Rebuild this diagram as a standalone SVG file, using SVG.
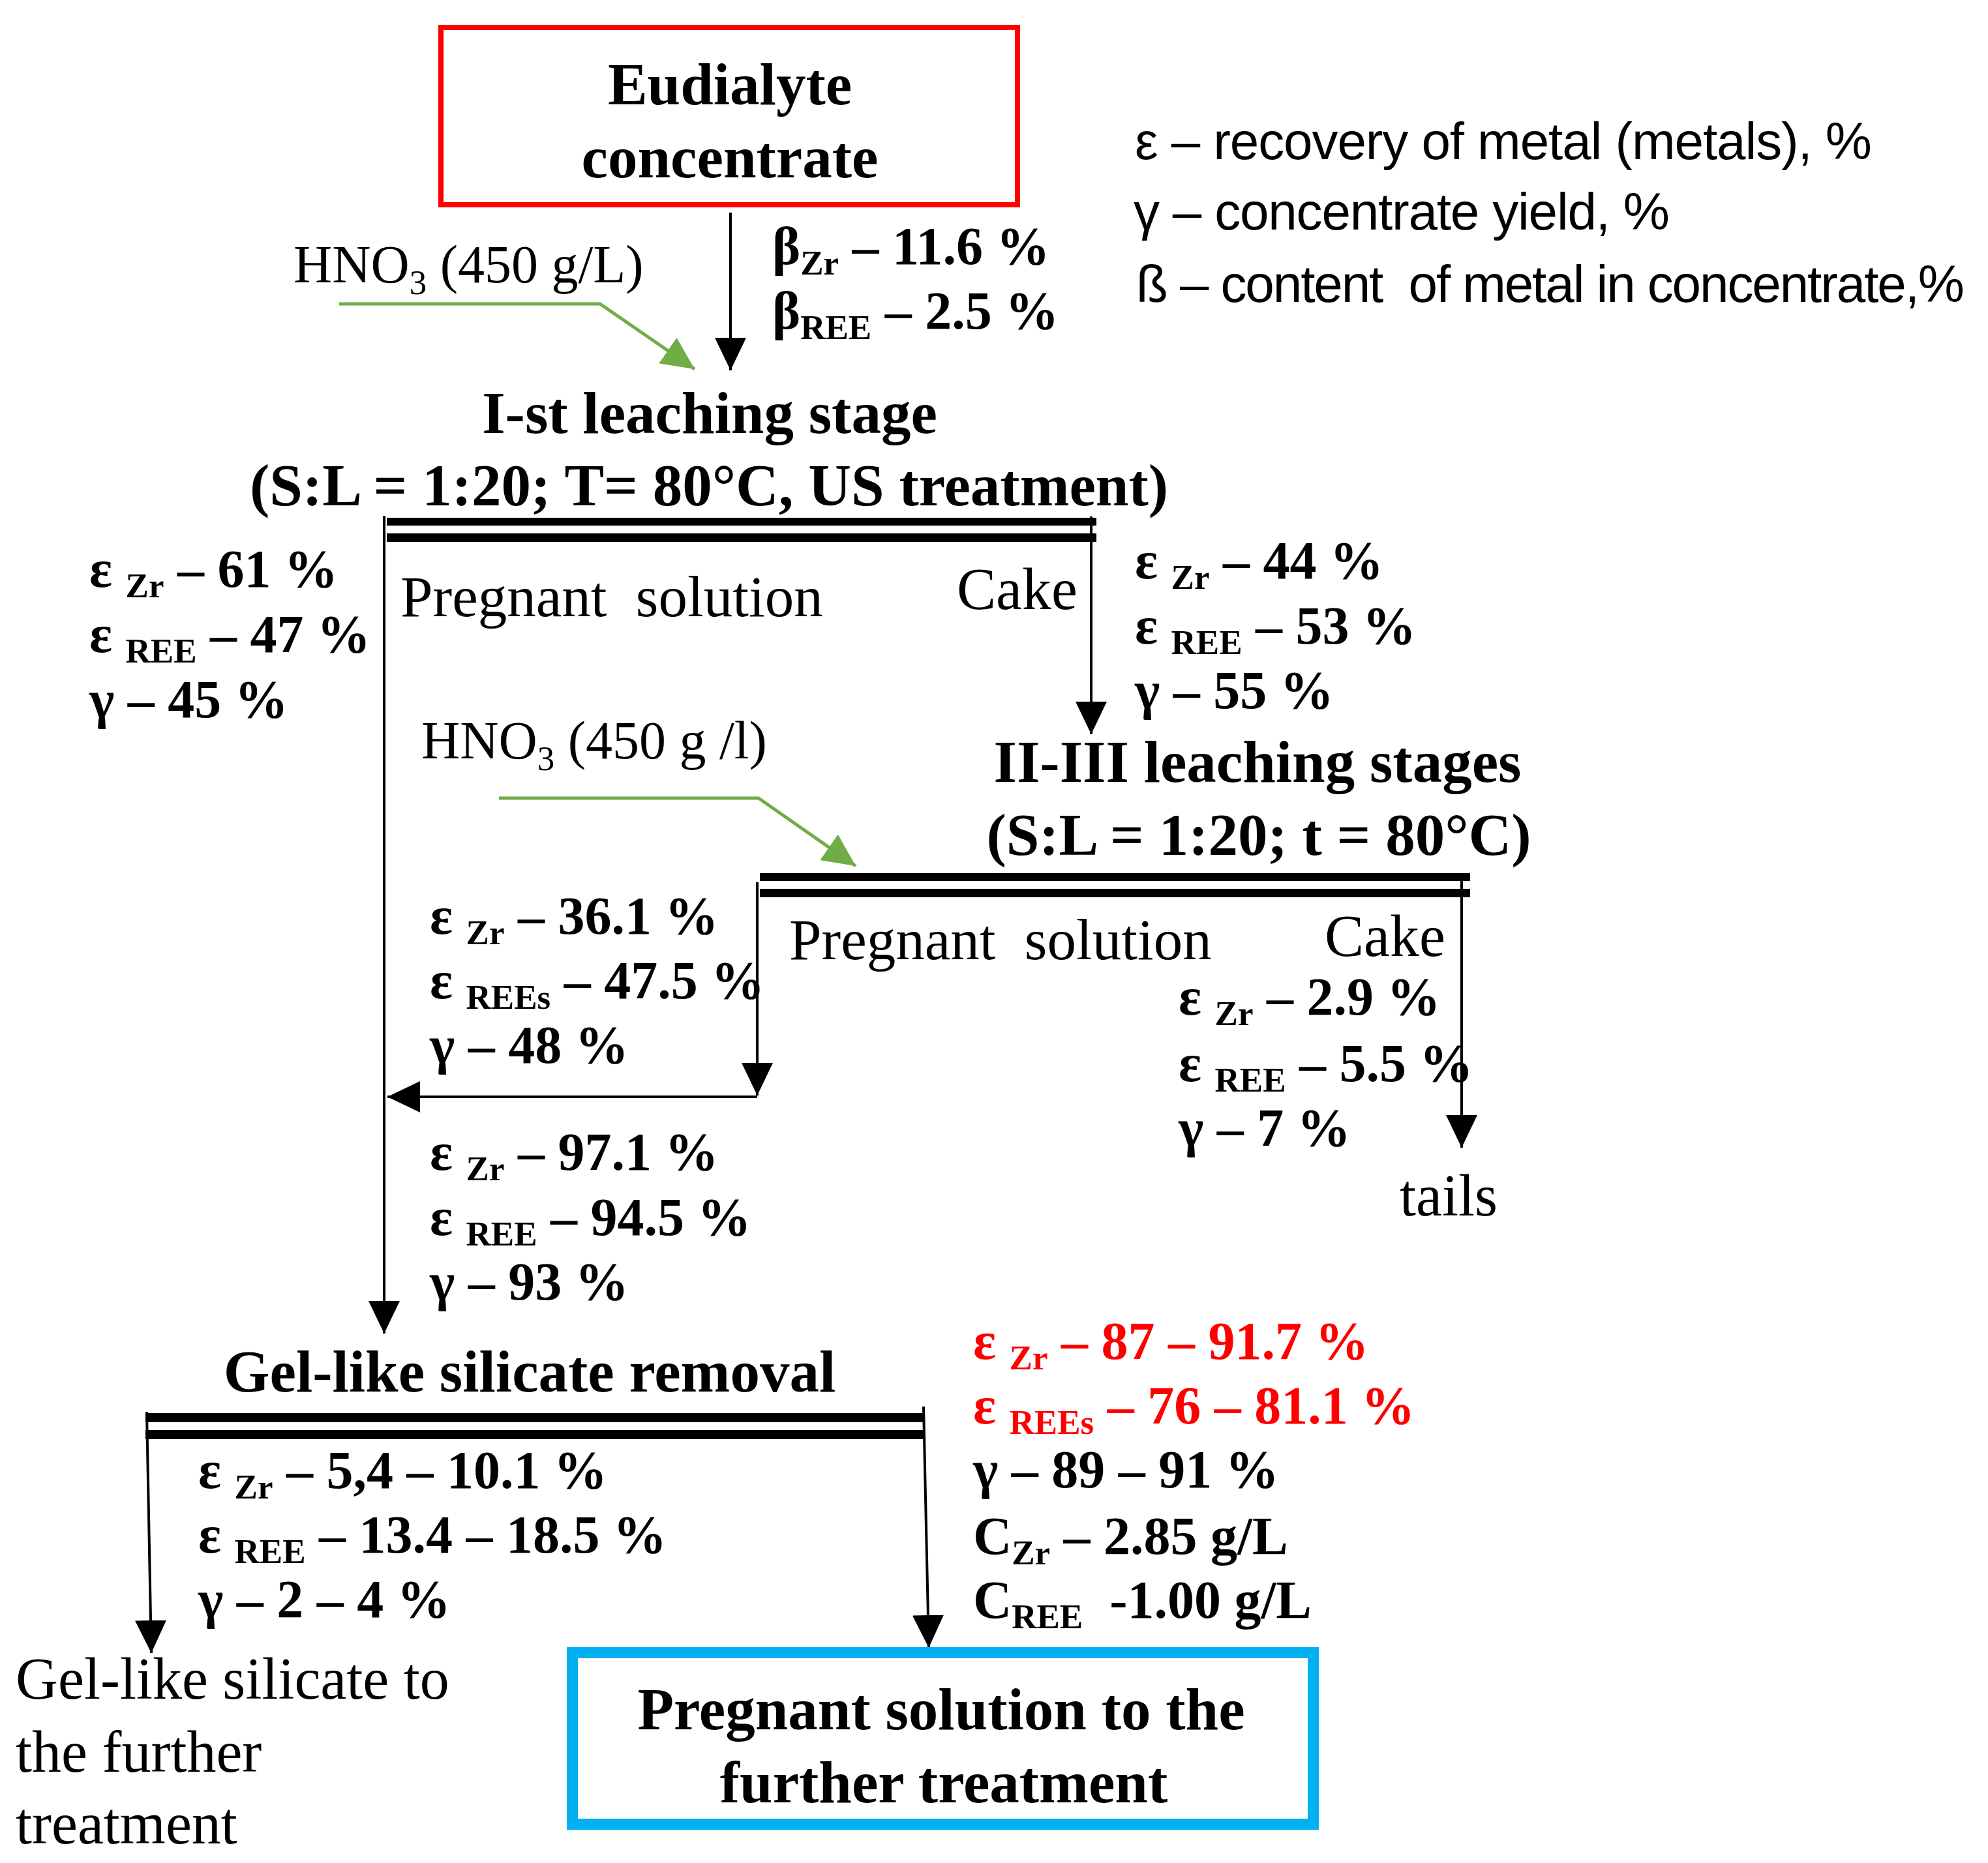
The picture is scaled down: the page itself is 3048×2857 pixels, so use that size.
<svg xmlns="http://www.w3.org/2000/svg" width="3048" height="2857" viewBox="0 0 3048 2857">
<style>
.t{font-family:"Liberation Serif","Times New Roman",serif;fill:#000;white-space:pre}
.b{font-weight:bold;font-size:82px}
.h{font-weight:bold;font-size:91px}
.r{font-size:90px}
.p{font-size:89px}
.hn{font-size:82px}
.s{font-size:53px}
.red{fill:#FF0000}
.lg{font-family:"Liberation Sans",Arial,sans-serif;font-size:80px;fill:#000;white-space:pre}
.ln{stroke:#000;stroke-width:4;fill:none}
.gr{stroke:#70AD47;stroke-width:5;fill:none}
.bar{fill:#000}
</style>
<defs>
<marker id="ah" markerUnits="userSpaceOnUse" markerWidth="50" markerHeight="48" refX="50" refY="24" orient="auto" viewBox="0 0 50 48">
<path d="M0,0 L50,24 L0,48 Z" fill="#000"/>
</marker>
<marker id="ahg" markerUnits="userSpaceOnUse" markerWidth="50" markerHeight="48" refX="50" refY="24" orient="auto" viewBox="0 0 50 48">
<path d="M0,0 L50,24 L0,48 Z" fill="#70AD47"/>
</marker>
</defs>
<rect width="3048" height="2857" fill="#fff"/>

<g id="connectors">
<line class="ln" x1="1120" y1="326" x2="1120" y2="568" marker-end="url(#ah)"/>
<polyline class="gr" points="520,466 920,466 1065,566" marker-end="url(#ahg)"/>
<line class="ln" x1="589" y1="791" x2="589" y2="2045" marker-end="url(#ah)"/>
<line class="ln" x1="1673" y1="792" x2="1673" y2="1126" marker-end="url(#ah)"/>
<polyline class="gr" points="765,1224 1163,1224 1312,1328" marker-end="url(#ahg)"/>
<line class="ln" x1="1161" y1="1353" x2="1161" y2="1680" marker-end="url(#ah)"/>
<line class="ln" x1="1161" y1="1682" x2="594" y2="1682" marker-end="url(#ah)"/>
<line class="ln" x1="2241" y1="1340" x2="2241" y2="1760" marker-end="url(#ah)"/>
<line class="ln" x1="225" y1="2165" x2="232" y2="2535" marker-end="url(#ah)"/>
<line class="ln" x1="1416" y1="2157" x2="1424" y2="2527" marker-end="url(#ah)"/>
</g>

<g id="n-eudialyte">
<rect x="676" y="42" width="884" height="272" fill="none" stroke="#FF0000" stroke-width="8"/>
<text class="t h" x="1119" y="160" text-anchor="middle">Eudialyte</text>
<text class="t h" x="1119" y="272" text-anchor="middle">concentrate</text>
</g>

<g id="legend">
<text class="lg" x="1740" y="244" textLength="1130">ε – recovery of metal (metals), %</text>
<text class="lg" x="1738" y="352" textLength="822">γ – concentrate yield, %</text>
<text class="lg" x="1742" y="463" textLength="1270">ß – content  of metal in concentrate,%</text>
</g>

<g id="feed-content">
<text class="t b" x="1184" y="405">β<tspan class="s" dy="16">Zr</tspan><tspan dy="-16"> – 11.6 %</tspan></text>
<text class="t b" x="1184" y="504">β<tspan class="s" dy="16">REE</tspan><tspan dy="-16"> – 2.5 %</tspan></text>
</g>

<g id="reagent-1">
<text class="t hn" x="450" y="433">HNO<tspan class="s" dy="18">3</tspan><tspan dy="-18"> (450 g/L)</tspan></text>
</g>

<g id="n-leach1">
<text class="t h" x="1088" y="664" text-anchor="middle">I-st leaching stage</text>
<text class="t h" x="1087" y="775" text-anchor="middle">(S:L = 1:20; T= 80°C, US treatment)</text>
<rect class="bar" x="593" y="794" width="1088" height="12"/>
<rect class="bar" x="593" y="818" width="1088" height="13"/>
<text class="t p" x="614" y="945">Pregnant  solution</text>
<text class="t r" x="1467" y="934">Cake</text>
</g>

<g id="stats-solution-1">
<text class="t b" x="137" y="900">ε <tspan class="s" dy="16">Zr</tspan><tspan dy="-16"> – 61 %</tspan></text>
<text class="t b" x="137" y="1000">ε <tspan class="s" dy="16">REE</tspan><tspan dy="-16"> – 47 %</tspan></text>
<text class="t b" x="137" y="1100">γ – 45 %</text>
</g>

<g id="stats-cake-1">
<text class="t b" x="1740" y="887">ε <tspan class="s" dy="16">Zr</tspan><tspan dy="-16"> – 44 %</tspan></text>
<text class="t b" x="1740" y="987">ε <tspan class="s" dy="16">REE</tspan><tspan dy="-16"> – 53 %</tspan></text>
<text class="t b" x="1740" y="1086">γ – 55 %</text>
</g>

<g id="reagent-2">
<text class="t hn" x="646" y="1163">HNO<tspan class="s" dy="18">3</tspan><tspan dy="-18"> (450 g /l)</tspan></text>
</g>

<g id="n-leach2">
<text class="t h" x="1928" y="1199" text-anchor="middle">II-III leaching stages</text>
<text class="t h" x="1930" y="1311" text-anchor="middle">(S:L = 1:20; t = 80°C)</text>
<rect class="bar" x="1165" y="1339" width="1089" height="12"/>
<rect class="bar" x="1165" y="1363" width="1089" height="13"/>
<text class="t p" x="1210" y="1471">Pregnant  solution</text>
<text class="t r" x="2031" y="1466">Cake</text>
</g>

<g id="stats-solution-2">
<text class="t b" x="659" y="1432">ε <tspan class="s" dy="16">Zr</tspan><tspan dy="-16"> – 36.1 %</tspan></text>
<text class="t b" x="659" y="1531">ε <tspan class="s" dy="16">REEs</tspan><tspan dy="-16"> – 47.5 %</tspan></text>
<text class="t b" x="659" y="1630">γ – 48 %</text>
</g>

<g id="stats-cake-2">
<text class="t b" x="1807" y="1556">ε <tspan class="s" dy="16">Zr</tspan><tspan dy="-16"> – 2.9 %</tspan></text>
<text class="t b" x="1807" y="1658">ε <tspan class="s" dy="16">REE</tspan><tspan dy="-16"> – 5.5 %</tspan></text>
<text class="t b" x="1807" y="1757">γ – 7 %</text>
</g>

<g id="n-tails">
<text class="t r" x="2146" y="1864">tails</text>
</g>

<g id="stats-combined">
<text class="t b" x="659" y="1794">ε <tspan class="s" dy="16">Zr</tspan><tspan dy="-16"> – 97.1 %</tspan></text>
<text class="t b" x="659" y="1894">ε <tspan class="s" dy="16">REE</tspan><tspan dy="-16"> – 94.5 %</tspan></text>
<text class="t b" x="659" y="1993">γ – 93 %</text>
</g>

<g id="n-gel">
<text class="t h" x="812" y="2134" text-anchor="middle">Gel-like silicate removal</text>
<rect class="bar" x="223" y="2167" width="1193" height="14"/>
<rect class="bar" x="223" y="2193" width="1193" height="14"/>
</g>

<g id="stats-gel">
<text class="t b" x="304" y="2282">ε <tspan class="s" dy="16">Zr</tspan><tspan dy="-16"> – 5,4 – 10.1 %</tspan></text>
<text class="t b" x="304" y="2381">ε <tspan class="s" dy="16">REE</tspan><tspan dy="-16"> – 13.4 – 18.5 %</tspan></text>
<text class="t b" x="304" y="2480">γ – 2 – 4 %</text>
</g>

<g id="stats-final">
<text class="t b red" x="1492" y="2084">ε <tspan class="s" dy="16">Zr</tspan><tspan dy="-16"> – 87 – 91.7 %</tspan></text>
<text class="t b red" x="1492" y="2183">ε <tspan class="s" dy="16">REEs</tspan><tspan dy="-16"> – 76 – 81.1 %</tspan></text>
<text class="t b" x="1492" y="2281">γ – 89 – 91 %</text>
<text class="t b" x="1492" y="2383">C<tspan class="s" dy="16">Zr</tspan><tspan dy="-16"> – 2.85 g/L</tspan></text>
<text class="t b" x="1492" y="2481">C<tspan class="s" dy="16">REE</tspan><tspan dy="-16">  -1.00 g/L</tspan></text>
</g>

<g id="n-gel-out">
<text class="t r" x="24" y="2605">Gel-like silicate to</text>
<text class="t r" x="24" y="2717">the further</text>
<text class="t r" x="24" y="2827">treatment</text>
</g>

<g id="n-final">
<rect x="877.5" y="2534.5" width="1136" height="263" fill="none" stroke="#00B0F0" stroke-width="17"/>
<text class="t h" x="1443" y="2652" text-anchor="middle">Pregnant solution to the</text>
<text class="t h" x="1447" y="2764" text-anchor="middle">further treatment</text>
</g>
</svg>
